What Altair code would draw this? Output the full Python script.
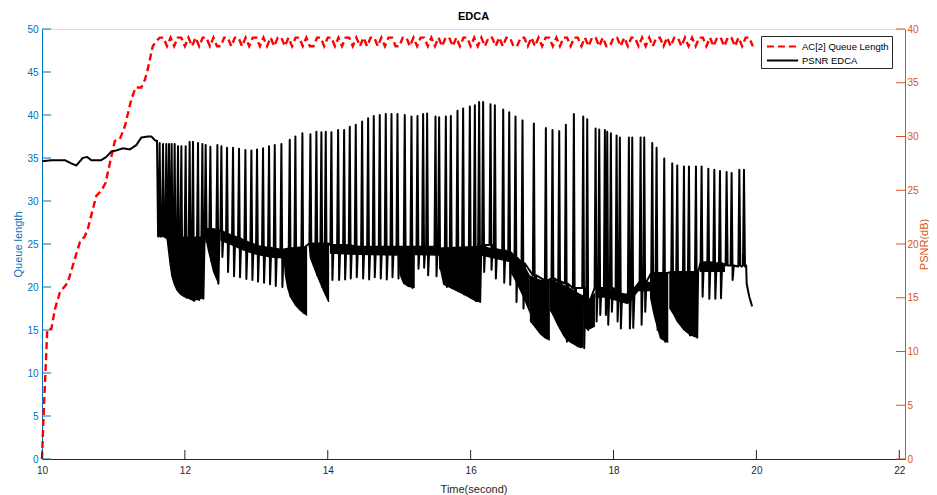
import altair as alt
import pandas as pd

# ---------------- data ----------------
SERIES = ["AC[2] Queue Length", "PSNR EDCA"]

# AC[2] queue length (left axis): rising part
q_rise_t = [10.0, 10.02, 10.05, 10.074, 10.13, 10.18, 10.25, 10.32, 10.36, 10.41, 10.53,
            10.60, 10.64, 10.76, 10.83, 10.89, 10.95, 11.02, 11.09, 11.16, 11.25, 11.31,
            11.39, 11.44, 11.48, 11.55, 11.60]
q_rise_v = [0, 4.6, 10.4, 15.1, 15.1, 17.4, 19.35, 20.1, 20.5, 21.9, 25.2,
            25.9, 26.7, 30.6, 31.2, 32.1, 34.4, 37.0, 37.2, 38.7, 41.8, 43.2,
            43.2, 44.1, 45.3, 48.0, 48.6]
# saturated part: sampled every 0.05 s from 11.65 s
q_osc_start = 11.65
q_osc_step = 0.05
q_osc_v = [49, 49, 48, 49, 48, 49, 49, 48, 49, 48,
           49, 48, 49, 49, 48, 49, 48, 48, 49, 49,
           48, 49, 49, 48, 49, 48, 49, 49, 48, 49,
           48, 49, 48, 49, 49, 48, 49, 48, 49, 49,
           48, 49, 48, 48, 49, 49, 48, 49, 49, 48,
           49, 48, 49, 49, 48, 49, 48, 49, 48, 49,
           49, 48, 49, 48, 49, 49, 48, 48, 49, 49,
           48, 49, 48, 49, 49, 48, 49, 48, 49, 48,
           49, 49, 48, 49, 48, 49, 49, 48, 49, 48,
           49, 48, 49, 49, 48, 49, 48, 49, 49, 48,
           48, 49, 49, 48, 49, 48, 49, 48, 49, 49,
           48, 49, 48, 49, 49, 48, 49, 49, 48, 49,
           48, 49, 49, 48, 49, 48, 48, 49, 49, 48,
           49, 48, 49, 49, 48, 49, 48, 49, 48, 49,
           49, 48, 49, 48, 49, 49, 48, 49, 48, 49,
           48, 49, 49, 48, 49, 48, 49, 49, 48, 49,
           49, 48, 49, 48, 49, 49, 48]

# PSNR (right axis): smooth start
p_start_t = [10.0, 10.15, 10.32, 10.41, 10.48, 10.57, 10.63, 10.69, 10.83, 10.90, 10.97,
             11.04, 11.13, 11.23, 11.32, 11.39, 11.48, 11.53, 11.59, 11.61, 11.625]
p_start_v = [27.7, 27.8, 27.8, 27.5, 27.3, 28.0, 28.1, 27.8, 27.8, 28.1, 28.6,
             28.7, 28.9, 28.8, 29.2, 29.9, 30.0, 30.0, 29.6, 29.6, 20.7]

# PSNR spikes: time, peak, level before/after, drop value
spk_t = [11.647, 11.694, 11.740, 11.778, 11.815, 11.857, 11.904, 11.951, 12.011, 12.067,
         12.114, 12.184, 12.245, 12.291, 12.357, 12.455, 12.511, 12.590, 12.674, 12.758,
         12.847, 12.931, 13.010, 13.094, 13.178, 13.258, 13.351, 13.468, 13.547, 13.645,
         13.757, 13.841, 13.911, 13.972, 14.051, 14.145, 14.229, 14.308, 14.392, 14.481,
         14.565, 14.644, 14.728, 14.812, 14.892, 14.976, 15.078, 15.172, 15.256, 15.335,
         15.391, 15.508, 15.559, 15.653, 15.723, 15.816, 15.895, 15.989, 16.059, 16.119,
         16.175, 16.278, 16.339, 16.456, 16.540, 16.628, 16.726, 16.885, 17.053, 17.146,
         17.240, 17.333, 17.445, 17.576, 17.632, 17.749, 17.800, 17.879, 17.912, 17.963,
         18.043, 18.089, 18.215, 18.262, 18.379, 18.430, 18.542, 18.603, 18.710, 18.822,
         18.892, 18.986, 19.056, 19.154, 19.233, 19.327, 19.411, 19.490, 19.583, 19.653,
         19.761, 19.826]
spk_peak = [29.4, 29.3, 29.3, 29.3, 29.3, 29.3, 29.1, 29.1, 29.1, 29.5,
            29.5, 29.4, 29.3, 29.2, 29.05, 29.2, 29.1, 28.95, 28.95, 28.85,
            28.75, 28.7, 28.8, 28.9, 29.1, 29.2, 29.3, 29.7, 30.0, 30.3,
            30.2, 30.45, 30.4, 30.45, 30.4, 30.6, 30.6, 30.9, 31.1, 31.4,
            31.7, 31.9, 32.0, 32.1, 32.1, 32.1, 32.0, 31.85, 31.9, 32.1,
            32.15, 31.85, 31.8, 31.85, 31.9, 32.4, 32.6, 32.8, 32.9, 33.2,
            33.2, 33.0, 32.9, 32.5, 32.25, 31.85, 31.5, 31.2, 30.8, 30.6,
            30.5, 31.1, 32.1, 31.85, 31.6, 30.75, 30.65, 30.6, 30.45, 30.3,
            30.1, 29.9, 29.9, 29.9, 29.9, 29.9, 29.4, 28.95, 27.95, 27.5,
            27.3, 27.2, 27.2, 27.2, 27.2, 27.0, 26.9, 26.8, 26.7, 26.6,
            26.9, 26.9]
spk_base = [20.7, 20.7, 20.6, 20.6, 20.6, 20.6, 20.6, 20.6, 20.6, 20.6,
            20.6, 20.6, 20.6, 21.4, 21.4, 21.3, 21.15, 20.9, 20.7, 20.5,
            20.2, 20.0, 19.8, 19.7, 19.65, 19.55, 19.45, 19.6, 19.65, 19.7,
            20.05, 20.05, 20.05, 20.05, 19.9, 19.9, 19.9, 19.85, 19.75, 19.75,
            19.75, 19.75, 19.75, 19.75, 19.75, 19.75, 19.75, 19.75, 19.75, 19.75,
            19.75, 19.75, 19.6, 19.6, 19.65, 19.65, 19.7, 19.7, 19.75, 19.75,
            19.9, 19.9, 19.5, 19.4, 19.2, 18.7, 18.2, 17.1, 16.6, 16.8,
            16.5, 16.3, 15.9, 15.9, 14.6, 15.9, 15.9, 15.9, 15.9, 15.9,
            15.6, 15.3, 15.3, 15.3, 16.5, 16.5, 17.3, 17.3, 17.3, 17.4,
            17.4, 17.4, 17.4, 17.4, 18.3, 18.3, 18.2, 18.2, 18.0, 18.0,
            17.9, 18.0]
spk_low = [20.7, 20.7, 20.5, 18.7, 17.0, 16.2, 15.6, 15.3, 15.0, 14.9,
           14.7, 14.8, 14.9, 20.2, 18.4, 16.3, 18.8, 17.4, 17.0, 16.9,
           16.75, 16.65, 16.5, 16.4, 16.25, 16.1, 16.0, 15.1, 14.3, 13.6,
           18.7, 17.1, 16.0, 15.2, 16.65, 16.65, 16.7, 16.8, 16.9, 16.8,
           16.7, 16.9, 16.8, 16.7, 16.9, 16.8, 16.3, 15.9, 17.7, 17.8,
           17.1, 17.0, 17.7, 16.0, 15.9, 15.6, 15.3, 15.0, 14.7, 14.6,
           17.4, 17.6, 16.8, 16.4, 16.2, 14.6, 14.0, 12.8, 11.3, 13.4,
           12.15, 10.9, 10.7, 10.3, 12.0, 12.8, 13.4, 13.4, 12.5, 13.7,
           12.8, 12.15, 12.15, 12.2, 12.5, 13.7, 14.6, 12.0, 10.9, 13.8,
           12.8, 12.0, 11.5, 11.3, 15.1, 14.9, 14.9, 14.95, 18.0, 16.65,
           18.0, 17.9]
p_tail_t = [19.864, 19.90, 19.94]
p_tail_v = [16.3, 15.1, 14.2]

# dense (filled-looking) parts of the PSNR trace: time, upper and lower envelope
dense = {
    "A": ([11.740, 11.763, 11.787, 11.81, 11.84, 11.88, 11.93, 11.974, 12.044, 12.114, 12.184, 12.245, 12.254],
          [20.6, 20.6, 20.6, 20.6, 20.6, 20.6, 20.6, 20.6, 20.6, 20.6, 20.6, 20.6, 20.6],
          [20.6, 19.3, 18.0, 17.0, 16.3, 15.7, 15.3, 15.1, 14.9, 14.7, 14.8, 14.9, 14.9]),
    "B": ([12.263, 12.324, 12.394, 12.464, 12.478],
          [21.4, 21.4, 21.35, 21.3, 21.3],
          [21.3, 19.3, 17.4, 16.3, 16.3]),
    "b1": ([12.497, 12.590, 12.684, 12.777, 12.871, 12.964, 13.057, 13.150, 13.244, 13.375],
           [21.15, 20.9, 20.65, 20.35, 20.1, 19.9, 19.75, 19.65, 19.55, 19.45],
           [20.3, 20.05, 19.8, 19.5, 19.25, 19.05, 18.9, 18.8, 18.7, 18.65]),
    "C": ([13.375, 13.398, 13.430, 13.468, 13.538, 13.608, 13.678, 13.711],
          [19.55, 19.6, 19.6, 19.6, 19.65, 19.7, 19.75, 19.75],
          [19.3, 17.1, 15.9, 15.1, 14.3, 13.8, 13.45, 13.3]),
    "D": ([13.729, 13.748, 13.841, 13.935, 14.005, 14.019],
          [20.05, 20.05, 20.05, 20.05, 20.05, 20.05],
          [20.0, 18.7, 17.1, 15.6, 14.6, 14.6]),
    "b2": ([14.03, 14.3, 14.6, 14.985],
           [19.9, 19.85, 19.8, 19.75],
           [19.1, 19.0, 18.95, 18.9]),
    "E": ([14.985, 15.008, 15.055, 15.125, 15.195, 15.218],
          [19.75, 19.75, 19.75, 19.75, 19.75, 19.75],
          [19.0, 17.1, 16.3, 16.0, 15.9, 15.9]),
    "b3": ([15.218, 15.559], [19.75, 19.7], [18.95, 18.9]),
    "F": ([15.559, 15.568, 15.615, 15.709, 15.802, 15.895, 15.989, 16.082, 16.129],
          [19.6, 19.6, 19.6, 19.65, 19.65, 19.7, 19.7, 19.75, 19.75],
          [19.4, 17.7, 16.2, 15.9, 15.6, 15.3, 14.95, 14.6, 14.6]),
    "b4": ([16.152, 16.35, 16.549], [19.9, 19.5, 19.2], [18.9, 18.6, 18.3]),
    "d1": ([16.549, 16.643, 16.737, 16.829], [19.2, 18.7, 18.2, 17.1], [17.5, 16.3, 15.0, 13.5]),
    "G": ([16.829, 16.90, 16.969, 17.04, 17.109],
          [17.1, 16.9, 16.7, 16.6, 16.8],
          [12.8, 12.2, 11.6, 11.2, 11.0]),
    "G2": ([17.109, 17.146, 17.20, 17.25, 17.30, 17.35, 17.40, 17.45, 17.50, 17.55, 17.58],
           [16.8, 16.7, 16.5, 16.4, 16.2, 16.1, 15.9, 15.7, 15.5, 15.3, 15.2],
           [13.8, 13.4, 12.6, 12.0, 11.4, 11.0, 10.8, 10.6, 10.4, 10.3, 10.4]),
    "G3": ([17.60, 17.63, 17.68, 17.74], [14.8, 14.8, 15.0, 15.5], [12.2, 12.0, 12.1, 12.3]),
    "b5": ([17.749, 17.90, 18.043, 18.2, 18.35, 18.51],
           [15.9, 15.9, 15.6, 15.3, 16.5, 16.5],
           [15.0, 15.0, 14.7, 14.4, 15.6, 15.6]),
    "H": ([18.51, 18.556, 18.603, 18.65, 18.72, 18.766],
          [17.3, 17.3, 17.3, 17.3, 17.3, 17.3],
          [15.0, 13.5, 12.3, 11.2, 10.9, 10.8]),
    "I": ([18.78, 18.836, 18.883, 18.976, 19.07, 19.186],
          [17.4, 17.4, 17.4, 17.4, 17.4, 17.4],
          [14.0, 13.4, 12.8, 12.0, 11.5, 11.2]),
    "b6": ([19.21, 19.56], [18.3, 18.2], [17.4, 17.4]),
}

x_ticks = [10, 12, 14, 16, 18, 20, 22]
yl_ticks = [0, 5, 10, 15, 20, 25, 30, 35, 40, 45, 50]
yr_ticks = [0, 5, 10, 15, 20, 25, 30, 35, 40]

# ---------------- build tables ----------------
q_t = list(q_rise_t) + [round(q_osc_start + q_osc_step * i, 3) for i in range(len(q_osc_v))]
q_v = list(q_rise_v) + list(q_osc_v)
red_df = pd.DataFrame({"t": q_t, "v": q_v, "series": SERIES[0], "o": range(len(q_t))})

D = 0.014
pt, pv = list(p_start_t), list(p_start_v)
for t, pk, b, lo in zip(spk_t, spk_peak, spk_base, spk_low):
    pt += [t - D, t, t + D, t + 2.2 * D]
    pv += [b, pk, lo, b]
pt += p_tail_t
pv += p_tail_v
blk_df = pd.DataFrame({"t": pt, "v": pv, "series": SERIES[1], "o": range(len(pt))})

rows = []
for name, (ts, tops, bots) in dense.items():
    for t, a, b in zip(ts, tops, bots):
        rows.append({"t": t, "top": a, "bot": b, "reg": name})
area_df = pd.DataFrame(rows)

xt_df = pd.DataFrame({"t": x_ticks})
ylt_df = pd.DataFrame({"v": yl_ticks})
yrt_df = pd.DataFrame({"v": yr_ticks})

# ---------------- chart ----------------
W, H = 863, 430
TICK = 9
XDOM = [10, 22.08]
BLUE, ORANGE, AXC = "#0072BD", "#D95319", "#262626"
FONT = "Liberation Sans"

xs = alt.Scale(domain=XDOM, nice=False, zero=False)
yls = alt.Scale(domain=[0, 50], nice=False, zero=False)
yrs = alt.Scale(domain=[0, 40], nice=False, zero=False)

leg = alt.Legend(title=None, orient="none", legendX=719, legendY=7,
                 symbolType="M-0.7,0H4.1", symbolSize=169, symbolStrokeWidth=2,
                 labelFontSize=9.5, labelFont=FONT, labelColor="#000000", labelOffset=23,
                 rowPadding=2, padding=3, strokeColor=AXC, fillColor="white", cornerRadius=0)
color = alt.Color("series:N", scale=alt.Scale(domain=SERIES, range=["#FF0000", "#000000"]), legend=leg)
dash = alt.StrokeDash("series:N", scale=alt.Scale(domain=SERIES, range=[[7, 4], [1, 0]]), legend=leg)

x_axis = alt.Axis(values=x_ticks, title="Time(second)", tickSize=0, labelPadding=6, grid=False,
                  labelFlush=False, domainColor=AXC, labelColor=AXC, titleColor=AXC,
                  labelFontSize=10, titleFontSize=11, titleFontWeight="normal", labelFont=FONT,
                  titleFont=FONT, titleY=30, titleBaseline="middle", domainWidth=1)
yl_axis = alt.Axis(orient="left", values=yl_ticks, title="Queue length", tickSize=0, labelPadding=4,
                   grid=False, labelFlush=False, domainColor=BLUE, labelColor=BLUE, titleColor=BLUE,
                   labelFontSize=10, titleFontSize=11, titleFontWeight="normal", labelFont=FONT,
                   titleFont=FONT, titleAngle=270, titleX=-24, titleY=H / 2, titleBaseline="middle",
                   titleAlign="center", domainWidth=1)
yr_axis = alt.Axis(orient="right", values=yr_ticks, title="PSNR(dB)", tickSize=0, labelPadding=2,
                   grid=False, labelFlush=False, domainColor=ORANGE, labelColor=ORANGE,
                   titleColor=ORANGE, labelFontSize=10, titleFontSize=11, titleFontWeight="normal",
                   labelFont=FONT, titleFont=FONT, titleAngle=270, titleX=19, titleY=H / 2,
                   titleBaseline="middle", titleAlign="center", domainWidth=1)

red = alt.Chart(red_df).mark_line(strokeWidth=2.4).encode(
    x=alt.X("t:Q", scale=xs, axis=x_axis),
    y=alt.Y("v:Q", scale=yls, axis=yl_axis),
    order="o:Q", color=color, strokeDash=dash)

area = alt.Chart(area_df).mark_area(color="#000000", opacity=1, interpolate="linear").encode(
    x=alt.X("t:Q", scale=xs, axis=None),
    y=alt.Y("top:Q", scale=yrs, axis=None),
    y2="bot:Q", detail="reg:N")

blk = alt.Chart(blk_df).mark_line(strokeWidth=2, strokeJoin="round").encode(
    x=alt.X("t:Q", scale=xs, axis=None),
    y=alt.Y("v:Q", scale=yrs, axis=yr_axis),
    order="o:Q", color=color, strokeDash=dash)

# inward (MATLAB-style) tick marks, placed through the axis scales
xtick = alt.Chart(xt_df).mark_rule(color=AXC, strokeWidth=1).encode(
    x=alt.X("t:Q", scale=xs, axis=None), y=alt.value(H - TICK), y2=alt.value(H))
yltick = alt.Chart(ylt_df).mark_rule(color=BLUE, strokeWidth=1).encode(
    y=alt.Y("v:Q", scale=yls, axis=None), x=alt.value(0), x2=alt.value(TICK))
yrtick = alt.Chart(yrt_df).mark_rule(color=ORANGE, strokeWidth=1).encode(
    y=alt.Y("v:Q", scale=yrs, axis=None), x=alt.value(W - TICK), x2=alt.value(W))

chart = alt.layer(red, area, blk, xtick, yltick, yrtick).resolve_scale(
    x="independent", y="independent"
).properties(
    width=W, height=H,
    title=alt.TitleParams("EDCA", fontSize=11, fontWeight="bold", font=FONT, color="#000000",
                          anchor="middle", frame="group", offset=2),
    autosize=alt.AutoSizeParams(type="none"),
    padding={"left": 34, "top": 21, "right": 24, "bottom": 36},
).configure_view(stroke=None).configure(background="white")

chart.save("out.html", embed_options={"renderer": "svg", "actions": False})
